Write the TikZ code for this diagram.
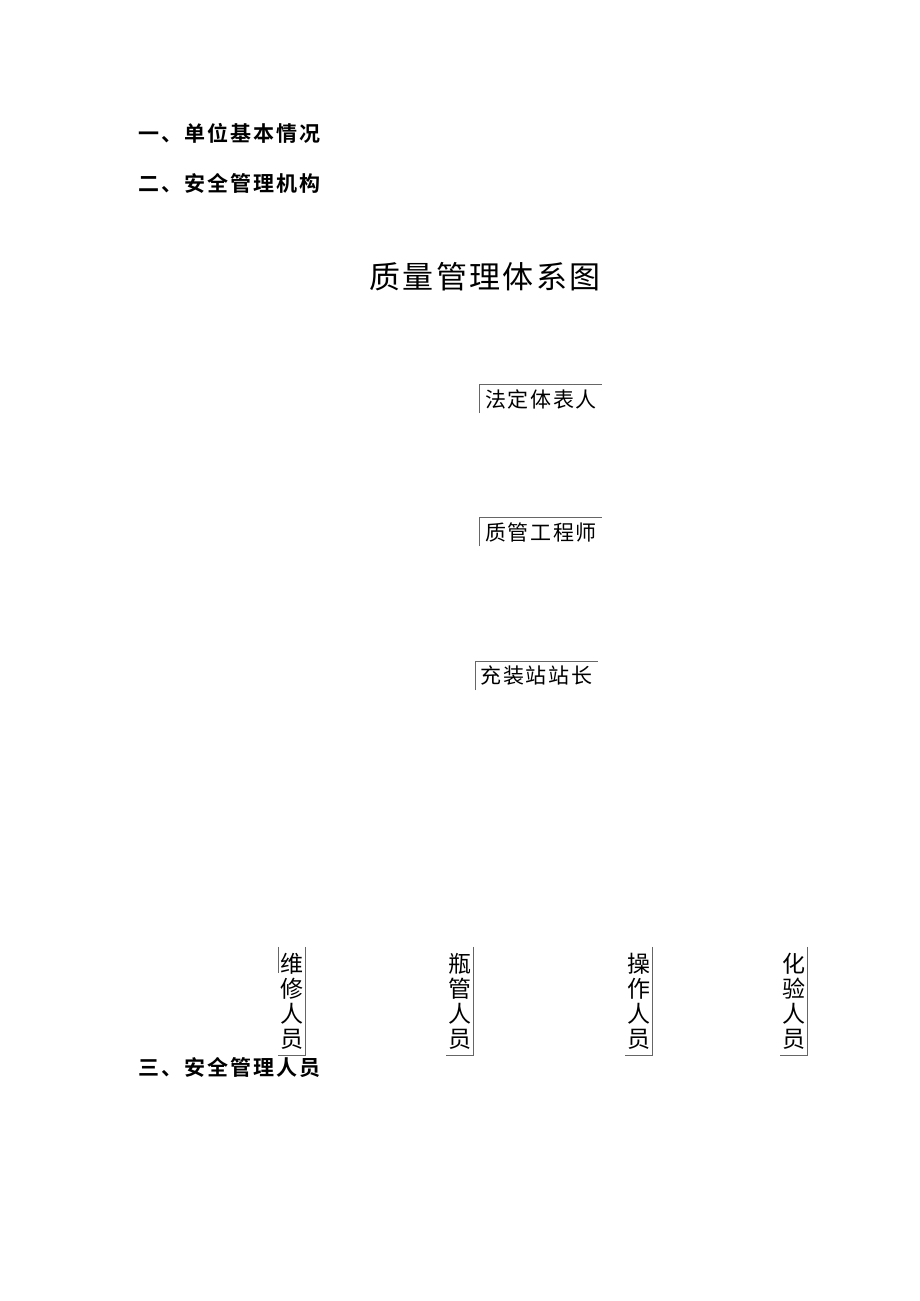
\documentclass[tikz,border=0pt]{standalone}
\usepackage{fontspec}
\newfontfamily\cjk{Noto Sans CJK SC}[LetterSpace=8]
\newfontfamily\cjkv{Noto Sans CJK SC}
\newfontfamily\cjkb{Noto Sans CJK SC Bold}[LetterSpace=10]
\begin{document}
\begin{tikzpicture}[x=1pt,y=-1pt,
  heading/.style={anchor=west,inner sep=0pt,font=\cjkb\fontsize{21}{21}\selectfont},
  hbox/.style={inner sep=0pt,minimum width=122pt,minimum height=28pt,font=\cjk\fontsize{21}{21}\selectfont},
  vbox/.style={inner sep=0pt,minimum width=27pt,minimum height=108pt,align=center,font=\cjkv\fontsize{23}{25}\selectfont},
  rule/.style={draw=gray!80!black,line width=0.8pt}]
\useasboundingbox (0,0) rectangle (920,1301);
\fill[white] (0,0) rectangle (920,1301);
\node[heading] (h1) at (138,133) {一、单位基本情况};
\node[heading] (h2) at (138,183) {二、安全管理机构};
\node[inner sep=0pt,font=\cjk\fontsize{31}{31}\selectfont] (title) at (485,277) {质量管理体系图};
\node[hbox] (fd) at (541,399) {法定体表人};
\node[hbox] (zg) at (541,532) {质管工程师};
\node[hbox] (cz) at (536.5,676) {充装站站长};
\draw[rule] (fd.south west) |- (fd.north east);
\draw[rule] (zg.south west) |- (zg.north east);
\draw[rule] (cz.south west) |- (cz.north east);
\node[vbox] (wx) at (292,1001) {维\\修\\人\\员};
\node[vbox] (pg) at (460,1001) {瓶\\管\\人\\员};
\node[vbox] (cc) at (639,1001) {操\\作\\人\\员};
\node[vbox] (hy) at (794,1001) {化\\验\\人\\员};
\draw[rule] (wx.north east) |- (wx.south west);
\draw[rule] (wx.north west) -- ++(0,26);
\draw[rule] (pg.north east) |- (pg.south west);
\draw[rule] (cc.north east) |- (cc.south west);
\draw[rule] (hy.north east) |- (hy.south west);
\node[heading] (h3) at (138,1068) {三、安全管理人员};
\end{tikzpicture}
\end{document}
